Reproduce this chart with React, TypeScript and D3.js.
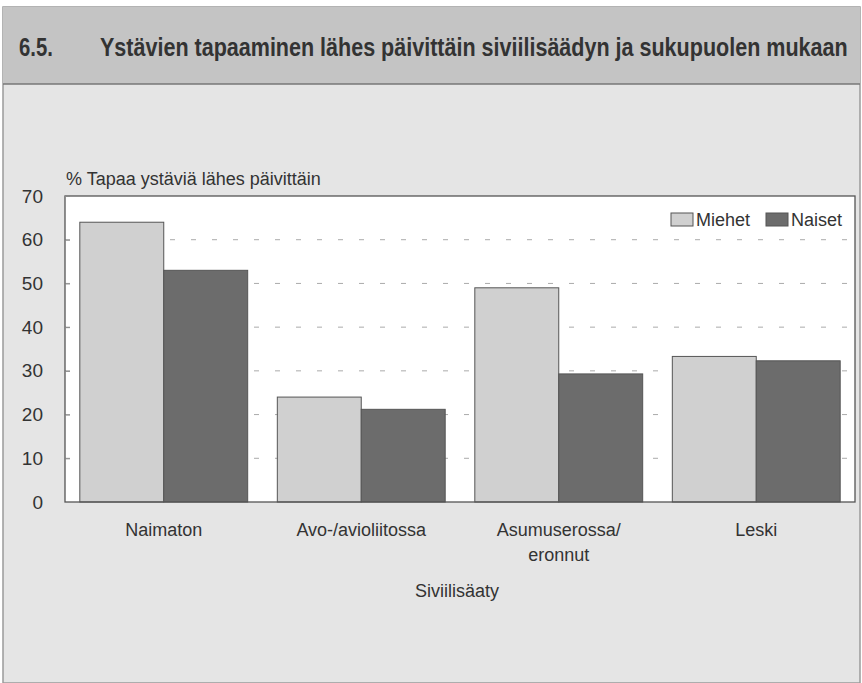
import { useEffect, useRef } from 'react'
import * as d3 from 'd3'

const categories = ['Naimaton', 'Avo-/avioliitossa', 'Asumuserossa/\neronnut', 'Leski']
const seriesNames = ['Miehet', 'Naiset']
const miehet = [64, 24, 49, 33.3]
const naiset = [53, 21.2, 29.3, 32.3]
const yTicks = [0, 10, 20, 30, 40, 50, 60, 70]

const W = 862
const H = 683

export default function App() {
  const svgRef = useRef<SVGSVGElement>(null)

  useEffect(() => {
    if (!svgRef.current) return
    const svg = d3.select(svgRef.current)
    svg.selectAll('*').remove()

    const font = '"Liberation Sans", Arial, Helvetica, sans-serif'
    const ink = '#333'
    const colors = ['#d0d0d0', '#6c6c6c']

    // Background panels
    svg.append('rect').attr('x', 0).attr('y', 0).attr('width', W).attr('height', H).attr('fill', '#ffffff')
    svg.append('rect').attr('x', 3).attr('y', 7).attr('width', W - 5).attr('height', H - 7)
      .attr('fill', '#e5e5e5').attr('stroke', '#9a9a9a').attr('stroke-width', 1.5)
    svg.append('rect').attr('x', 3).attr('y', 7).attr('width', W - 5).attr('height', 77)
      .attr('fill', '#c4c4c4')
    svg.append('line').attr('x1', 3).attr('x2', W - 2).attr('y1', 84).attr('y2', 84)
      .attr('stroke', '#777').attr('stroke-width', 1.5)

    // Title (condensed by horizontal scaling to fit the original width)
    svg.append('text').attr('x', 0).attr('y', 0).attr('font-family', font)
      .attr('font-weight', 'bold').attr('font-size', 26).attr('fill', ink)
      .attr('transform', 'translate(19,56) scale(0.78,1)')
      .text('6.5.')
    const titleG = svg.append('g')
    const title = titleG.append('text').attr('x', 0).attr('y', 0).attr('font-family', font)
      .attr('font-weight', 'bold').attr('font-size', 26).attr('fill', ink)
      .text('Ystävien tapaaminen lähes päivittäin siviilisäädyn ja sukupuolen mukaan')
    const tw = (title.node() as SVGTextElement).getComputedTextLength() || 1000
    titleG.attr('transform', `translate(100,56) scale(${748 / tw},1)`)

    const margin = { left: 65, right: 7, top: 196, bottom: 181 }
    const pw = W - margin.left - margin.right
    const ph = H - margin.top - margin.bottom

    const g = svg.append('g').attr('transform', `translate(${margin.left},${margin.top})`)

    const x0 = d3.scaleBand<string>().domain(categories).range([0, pw]).paddingInner(0.15).paddingOuter(0.075)
    const x1 = d3.scaleBand<string>().domain(seriesNames).range([0, x0.bandwidth()]).padding(0)
    const y = d3.scaleLinear().domain([0, 70]).range([ph, 0])

    // Plot area
    g.append('rect').attr('x', 0).attr('y', 0).attr('width', pw).attr('height', ph).attr('fill', '#fff')

    // Gridlines
    g.selectAll('line.grid').data(yTicks.filter((t) => t > 0 && t < 70)).join('line')
      .attr('class', 'grid')
      .attr('x1', 0).attr('x2', pw)
      .attr('y1', (d) => y(d)).attr('y2', (d) => y(d))
      .attr('stroke', '#aaa').attr('stroke-width', 1).attr('stroke-dasharray', '5 16')

    // Bars
    const vals = [miehet, naiset]
    seriesNames.forEach((s, si) => {
      g.selectAll(`rect.s${si}`).data(categories).join('rect')
        .attr('class', `s${si}`)
        .attr('x', (c) => (x0(c) ?? 0) + (x1(s) ?? 0))
        .attr('y', (c, i) => y(vals[si][i]))
        .attr('width', x1.bandwidth())
        .attr('height', (c, i) => ph - y(vals[si][i]))
        .attr('fill', colors[si])
        .attr('stroke', '#555').attr('stroke-width', 1)
    })

    // Frame
    g.append('rect').attr('x', 0).attr('y', 0).attr('width', pw).attr('height', ph)
      .attr('fill', 'none').attr('stroke', '#555').attr('stroke-width', 1.3)

    // Y axis
    const yAxis = d3.axisLeft(y).tickValues(yTicks).tickSize(12).tickPadding(10)
    const ya = g.append('g').call(yAxis)
    ya.select('.domain').remove()
    ya.selectAll('.tick line').attr('stroke', '#888').attr('x2', 5)
    ya.selectAll('.tick text').attr('font-family', font).attr('font-size', 19).attr('fill', ink)

    g.append('text').attr('x', 1).attr('y', -11).attr('font-family', font).attr('font-size', 18)
      .attr('fill', ink).text('% Tapaa ystäviä lähes päivittäin')

    // Category labels
    categories.forEach((c) => {
      const cx = (x0(c) ?? 0) + x0.bandwidth() / 2
      c.split('\n').forEach((line, li) => {
        g.append('text').attr('x', cx).attr('y', ph + 34 + li * 25).attr('text-anchor', 'middle')
          .attr('font-family', font).attr('font-size', 18).attr('fill', ink).text(line)
      })
    })

    g.append('text').attr('x', pw / 2 - 3).attr('y', ph + 95).attr('text-anchor', 'middle')
      .attr('font-family', font).attr('font-size', 18).attr('fill', ink).text('Siviilisäaty')

    // Legend
    const legend = g.append('g').attr('transform', `translate(${pw - 184},17)`)
    const legX = [0, 95]
    seriesNames.forEach((s, i) => {
      legend.append('rect').attr('x', legX[i]).attr('y', 0).attr('width', 22).attr('height', 13)
        .attr('fill', colors[i]).attr('stroke', '#555').attr('stroke-width', 1)
      legend.append('text').attr('x', legX[i] + 25).attr('y', 13).attr('font-family', font)
        .attr('font-size', 18).attr('fill', ink).text(s)
    })
  }, [])

  return (
    <div style={{ position: 'absolute', left: 0, top: 0 }}>
      <svg ref={svgRef} width={W} height={H} style={{ display: 'block' }} />
    </div>
  )
}
